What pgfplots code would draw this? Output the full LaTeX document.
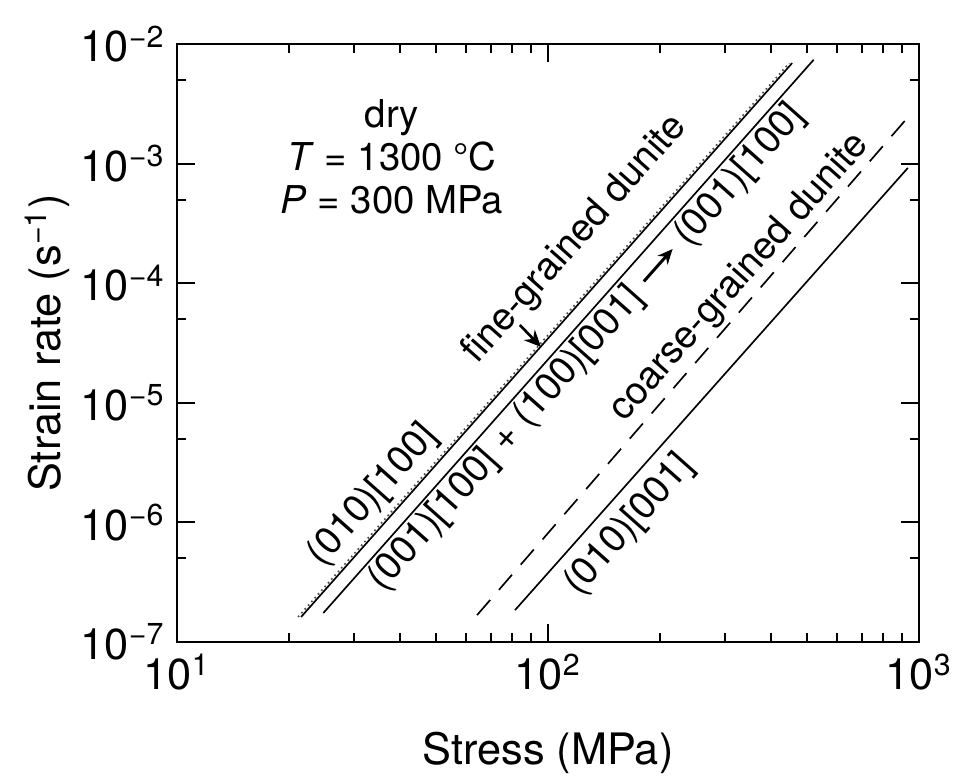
\documentclass[border=0pt]{standalone}
\usepackage{fontspec}
\setmainfont{TeX Gyre Heros}
\usepackage{pgfplots}
\pgfplotsset{compat=1.18}
\usetikzlibrary{calc,arrows.meta}

\newcommand{\ann}{\fontsize{11.5}{11.5}\selectfont}
\newcommand{\arr}{\raisebox{0.25ex}{\tikz\draw[line width=0.9pt,-{Stealth[length=4.5pt,width=4pt]}] (0,0)--(13pt,0);}}

\begin{document}
\begin{tikzpicture}
\begin{axis}[
  name=ax,
  scale only axis,
  width=222.6pt, height=179.4pt,
  xmode=log, ymode=log,
  xmin=10, xmax=1000, ymin=1e-7, ymax=1e-2,
  axis line style={line width=0.8pt},
  tick align=inside,
  tick style={black, line width=0.6pt},
  major tick length=5.5pt,
  minor tick length=2.7pt,
  xtick={10,100,1000},
  xticklabels={10\textsuperscript{1},10\textsuperscript{2},10\textsuperscript{3}},
  ytick={1e-7,1e-6,1e-5,1e-4,1e-3,1e-2},
  yticklabels={10\textsuperscript{−7},10\textsuperscript{−6},10\textsuperscript{−5},10\textsuperscript{−4},10\textsuperscript{−3},10\textsuperscript{−2}},
  minor ytick={5e-7,5e-6,5e-5,5e-4,5e-3},
  ticklabel style={font=\fontsize{13}{13}\selectfont},
  label style={font=\fontsize{13}{13}\selectfont},
  xlabel={Stress (MPa)},
  ylabel={Strain rate (s\textsuperscript{−1})},
  xlabel style={at={(axis description cs:0.5,-0.205)}, anchor=base},
  ylabel style={at={(axis description cs:-0.175,0.5)}, anchor=center},
  clip=false,
]
% (010)[100], fine-grained dunite
\addplot[black!70, line width=0.5pt, densely dotted] coordinates {(21.2,1.62e-7) (447,6.93e-3)};
\addplot[black, line width=0.5pt] coordinates {(21.6,1.62e-7) (455,6.93e-3)};
% (001)[100] + (100)[001]
\addplot[black, line width=0.5pt] coordinates {(24.8,1.75e-7) (520,7.38e-3)};
% coarse-grained dunite
\addplot[black, line width=0.5pt, dash pattern=on 6pt off 4pt] coordinates {(64.4,1.68e-7) (929,2.4e-3)};
% (010)[001]
\addplot[black, line width=0.5pt] coordinates {(81.5,1.85e-7) (933,9.2e-4)};

% run conditions
\node[anchor=base, font=\ann, inner sep=0pt] at (axis cs:37.97,1.99e-3) {dry};
\node[anchor=base, font=\ann, inner sep=0pt] at (axis cs:37.97,8.84e-4) {\textit{T} = 1300 °C};
\node[anchor=base, font=\ann, inner sep=0pt] at (axis cs:37.97,3.86e-4) {\textit{P} = 300 MPa};

% slip-system labels
\node[rotate=48.4, font=\ann, inner sep=0pt] at (axis cs:33.8,1.69e-6) {(010)[100]};
\node[rotate=48.4, font=\ann, inner sep=0pt] at (axis cs:118.3,2.30e-4) {fine-grained dunite};
\node[rotate=48.4, font=\ann, inner sep=0pt] at (axis cs:127.4,2.87e-5) {(001)[100] + (100)[001] \arr\ (001)[100]};
\node[rotate=48.4, font=\ann, inner sep=0pt] at (axis cs:329,1.11e-4) {coarse-grained dunite};
\node[rotate=48.4, font=\ann, inner sep=0pt] at (axis cs:166,9.5e-7) {(010)[001]};
\draw[line width=0.8pt, -{Stealth[length=5pt,width=4.5pt]}] (axis cs:84.0,4.47e-5) -- (axis cs:95.7,2.93e-5);
\end{axis}
\pgfresetboundingbox
\path[use as bounding box] ($(ax.south west)+(-53.1pt,-40.5pt)$) rectangle ($(ax.north east)+(12pt,13.2pt)$);
\end{tikzpicture}
\end{document}
